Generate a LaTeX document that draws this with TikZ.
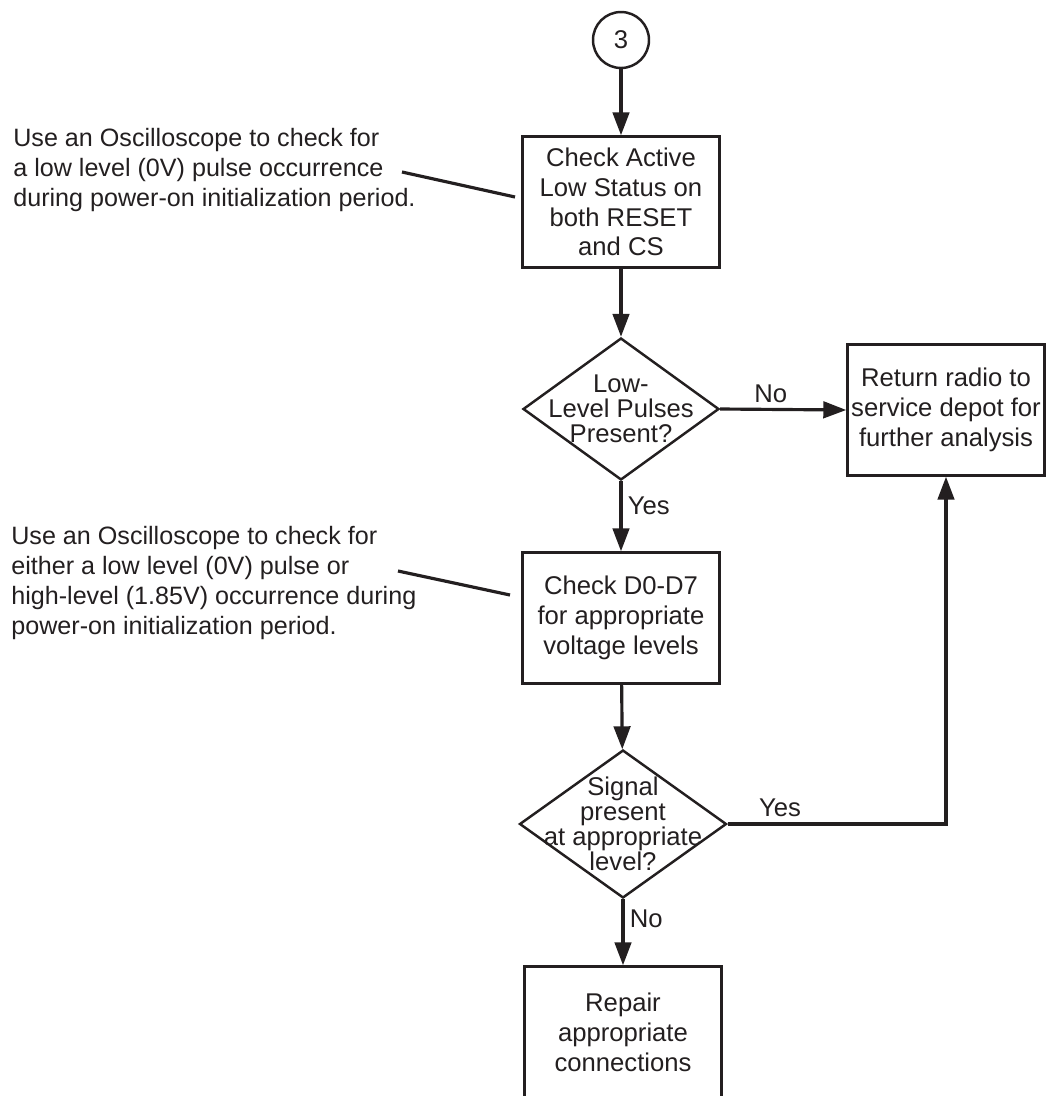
\documentclass[tikz,border=0pt]{standalone}
\usepackage{fontspec}
\setmainfont{Liberation Sans}
\usetikzlibrary{positioning, arrows.meta, shapes.geometric}
\definecolor{ink}{HTML}{231F20}
\tikzset{
  box/.style={draw=ink, rectangle, align=center, font=\fontsize{14.6}{17}\selectfont, text=ink,
              minimum width=3.94cm, minimum height=2.62cm, inner sep=2pt, line width=1.4pt},
  dec/.style={diamond, draw=ink, minimum width=3.92cm, minimum height=2.84cm, inner sep=0pt,
              line width=1.4pt},
  dectxt/.style={align=center, font=\fontsize{14.6}{14.2}\selectfont, text=ink, inner sep=0pt},
  conn/.style={circle, draw=ink, minimum size=1.12cm, inner sep=0pt, text=ink,
               font=\fontsize{14.6}{17}\selectfont, line width=1.4pt},
  arr/.style={-{Triangle[length=0.46cm, width=0.33cm]}, line width=1.8pt, draw=ink},
  lead/.style={line width=1.8pt, draw=ink},
  lbl/.style={font=\fontsize{14.6}{17}\selectfont, text=ink, inner sep=3pt},
  note/.style={align=left, font=\fontsize{14.3}{17}\selectfont, text=ink, inner sep=0pt, anchor=west},
}
\begin{document}
\begin{tikzpicture}[x=0.02cm, y=-0.02cm]
    \useasboundingbox (0,0) rectangle (1050,1096);
    % main column
    \node[conn] (c3)   at (621, 40)   {3};
    \node[box]  (chk1) at (621, 202)  {Check Active\\Low Status on\\both RESET\\and CS};
    \node[dec, label={[dectxt]center:Low-\\Level Pulses\\Present?}] (d1) at (621, 409) {};
    \node[box]  (chk2) at (621, 618)  {Check D0-D7\\for appropriate\\voltage levels};
    \node[dec, minimum width=4.14cm, minimum height=2.96cm,
          label={[dectxt]center:Signal\\present\\at appropriate\\level?}] (d2) at (623, 824) {};
    \node[box]  (fix)  at (623, 1032) {Repair\\appropriate\\connections};
    % side
    \node[box]  (ret)  at (946, 410)  {Return radio to\\service depot for\\further analysis};
    % notes
    \node[note] (n1) at (13, 170) {Use an Oscilloscope to check for\\a low level (0V) pulse occurrence\\during power-on initialization period.};
    \node[note] (n2) at (11, 583) {Use an Oscilloscope to check for\\either a low level (0V) pulse or\\high-level (1.85V) occurrence during\\power-on initialization period.};
    \coordinate (n1a) at (402, 172);
    \coordinate (n1b) at (515, 197);
    \coordinate (n2a) at (398, 571);
    \coordinate (n2b) at (510, 595);

    \draw[arr] (c3) -- (chk1);
    \draw[arr] (chk1) -- (d1);
    \draw[arr] (d1.east) -- node[lbl, above, pos=0.4] {No} (ret.west);
    \draw[arr] (d1.south) -- node[lbl, right, pos=0.35] {Yes} (chk2.north);
    \draw[arr] (chk2) -- (d2);
    \draw[arr] (d2.east) -| node[lbl, above, pos=0.12] {Yes} (ret.south);
    \draw[arr] (d2.south) -- node[lbl, right, pos=0.3] {No} (fix.north);
    \draw[lead] (n1a) -- (n1b);
    \draw[lead] (n2a) -- (n2b);
  \end{tikzpicture}
\end{document}
